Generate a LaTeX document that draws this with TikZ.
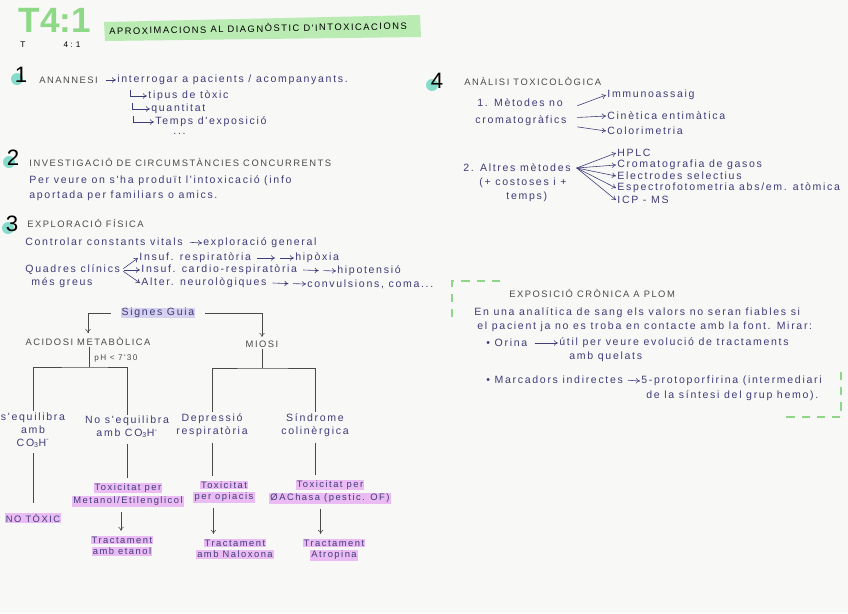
\documentclass[tikz,border=0pt]{standalone}
\usepackage{fontspec}
\newfontfamily\hand[LetterSpace=16]{Liberation Sans}
\newfontfamily\plain{Liberation Sans}
\usetikzlibrary{arrows.meta,positioning}
\definecolor{ink}{HTML}{3F3C7A}
\definecolor{graphite}{HTML}{4A4A4A}
\definecolor{mint}{HTML}{B9EBB2}
\definecolor{bigmint}{HTML}{8ED987}
\definecolor{numhl}{HTML}{86DCCB}
\definecolor{pinkhl}{HTML}{EBBBF3}
\definecolor{lavhl}{HTML}{D5D1EE}
\definecolor{dashgreen}{HTML}{8FD68A}
\definecolor{paper}{HTML}{F8F8F6}
\tikzset{
  body/.style   = {font=\hand\fontsize{9}{11}\selectfont, text=ink, inner sep=1pt, anchor=west},
  head/.style   = {body, font=\hand\fontsize{8}{10}\selectfont, text=graphite},
  leaf/.style   = {body, anchor=center, align=center},
  pink/.style   = {leaf, font=\hand\fontsize{8}{10}\selectfont, fill=pinkhl, inner ysep=0.8pt},
  bignum/.style = {font=\plain\fontsize{19}{19}\selectfont, text=black, inner sep=0pt},
  link/.style   = {draw=graphite, line width=0.5pt},
  tip/.style    = {-{To[length=1.2mm,width=1.6mm]}},
  inkarrow/.style = {draw=ink, line width=0.5pt, tip},
  dashbox/.style  = {dashgreen, line width=1.6pt, dash pattern=on 7pt off 6pt},
}

\begin{document}
\begin{tikzpicture}[x=0.03cm,y=-0.03cm]
  \fill[paper] (0,0) rectangle (848,613);
  \useasboundingbox (0,0) rectangle (848,613);

  % header
  \fill[mint] (104,22) -- (420,15) -- (421,37) -- (105,41) -- cycle;
  \node[font=\plain\bfseries\fontsize{30}{30}\selectfont, text=bigmint, inner sep=0pt] (big) at (55,20) {T4:1};
  \node[font=\plain\fontsize{7}{7}\selectfont, inner sep=0pt] (smallt) at (23,45) {T};
  \node[font=\plain\fontsize{7}{7}\selectfont, inner sep=0pt] (smalln) at (72,45) {4 : 1};
  \node[head, anchor=center, text=black, rotate=1] (title) at (258,28) {APROXIMACIONS AL DIAGNÒSTIC D'INTOXICACIONS};

  % 1
  \fill[numhl] (17,79) circle (6);
  \node[bignum] (n1) at (21,75) {1};
  \node[head] (anam) at (38,80) {ANANNESI};
  \node[body] (interr) at (116,80) {interrogar a pacients / acompanyants.};
  \draw[inkarrow] ([xshift=6pt]anam.east) -- (interr.west);
  \node[body] (tipus) at (147,96) {tipus de tòxic};
  \node[body] (quant) at (150,109) {quantitat};
  \node[body] (temps) at (154,122) {Temps d'exposició};
  \node[body] (etc) at (172,134) {...};
  \draw[inkarrow] ([xshift=-14pt]tipus.north west) |- (tipus.west);
  \draw[inkarrow] ([xshift=-15pt]quant.north west) |- (quant.west);
  \draw[inkarrow] ([xshift=-18pt]temps.north west) |- (temps.west);

  % 2
  \fill[numhl] (9,162) circle (6);
  \node[bignum] (n2) at (13,158) {2};
  \node[head] (invest) at (28,162) {INVESTIGACIÓ DE CIRCUMSTÀNCIES CONCURRENTS};
  \node[body] (per1) at (28,181) {Per veure on s'ha produït l'intoxicació (info};
  \node[body] (per2) at (28,196) {aportada per familiars o amics.};

  % 3
  \fill[numhl] (8,228) circle (6);
  \node[bignum] (n3) at (12,224) {3};
  \node[head] (explo) at (26,223) {EXPLORACIÓ FÍSICA};
  \node[body] (contr) at (24,242) {Controlar constants vitals};
  \node[body] (expgen) at (202,243) {exploració general};
  \draw[inkarrow, shorten <=5pt] (contr.east) -- (expgen.west);
  \node[body] (quad1) at (24,270) {Quadres clínics};
  \node[body] (quad2) at (30,283) {més greus};
  \node[body] (ins1) at (138,258) {Insuf. respiratòria};
  \node[body] (ins2) at (140,270) {Insuf. cardio-respiratòria};
  \node[body] (ins3) at (140,283) {Alter. neurològiques};
  \node[body] (hipox) at (294,258) {hipòxia};
  \node[body] (hipot) at (336,271) {hipotensió};
  \node[body] (conv) at (306,284) {convulsions, coma...};
  \foreach \a in {ins1,ins2,ins3}
    \draw[inkarrow, shorten <=2pt] (quad1.east) -- (\a.west);
  \foreach \a/\b in {ins1/hipox, ins2/hipot, ins3/conv} {
    \path (\a.east) -- (\b.west) coordinate[pos=0.6] (mid\b);
    \draw[inkarrow] ([xshift=4pt]\a.east) -- ([xshift=-2pt]mid\b);
    \draw[inkarrow] ([xshift=2pt]mid\b) -- (\b.west);
  }

  % signes guia
  \node[body, anchor=center, fill=lavhl, inner ysep=0pt] (guia) at (158,313) {Signes Guia};
  \node[head, anchor=center] (acid) at (88,341) {ACIDOSI METABÒLICA};
  \node[head, anchor=center] (miosi) at (262,344) {MIOSI};
  \draw[link, tip, shorten >=2pt] ([xshift=-8pt]guia.west) -| (acid.north);
  \draw[link, tip, shorten >=2pt] ([xshift=8pt]guia.east) -| (miosi.north);
  \node[body, text=graphite, font=\hand\fontsize{7}{8}\selectfont] (ph) at (93,358) {pH < 7'30};
  \coordinate (asplit) at (89,367);
  \coordinate (msplit) at (262,368);
  \draw[link] (acid.south -| asplit) -- (asplit);
  \draw[link] (miosi.south) -- (msplit);
  \node[leaf] (eq) at (33,430) {s'equilibra\\amb\\CO\textsubscript{3}H\textsuperscript{-}};
  \node[leaf] (noeq) at (127,427) {No s'equilibra\\amb CO\textsubscript{3}H\textsuperscript{-}};
  \node[leaf] (dep) at (212,425) {Depressió\\respiratòria};
  \node[leaf] (sin) at (315,425) {Síndrome\\colinèrgica};
  \draw[link] (eq.north) |- (asplit) -| (noeq.north);
  \draw[link] (dep.north) |- (msplit) -| (sin.north);

  \node[pink] (notox) at (33,518) {NO TÒXIC};
  \node[pink] (tox1a) at (128,488) {Toxicitat per};
  \node[pink, below=2pt of tox1a] (tox1b) {Metanol/Etilenglicol};
  \node[pink] (tr1a) at (122,540) {Tractament};
  \node[pink, below=2pt of tr1a] (tr1b) {amb etanol};
  \node[pink] (tox2a) at (224,485) {Toxicitat};
  \node[pink, below=2pt of tox2a] (tox2b) {per opiacis};
  \node[pink] (tr2a) at (235,543) {Tractament};
  \node[pink, below=2pt of tr2a] (tr2b) {amb Naloxona};
  \node[pink] (tox3a) at (330,485) {Toxicitat per};
  \node[pink, below=2pt of tox3a] (tox3b) {ØAChasa (pestic. OF)};
  \node[pink] (tr3a) at (334,543) {Tractament};
  \node[pink, below=2pt of tr3a] (tr3b) {Atropina};

  \draw[link] ([yshift=-4pt]eq.south) -- ([yshift=8pt]eq.south |- notox.north);
  \draw[link] ([yshift=-4pt]noeq.south) -- ([yshift=4pt]noeq.south |- tox1a.north);
  \draw[link] ([yshift=-4pt]dep.south) -- ([yshift=4pt]dep.south |- tox2a.north);
  \draw[link] ([yshift=-4pt]sin.south) -- ([yshift=4pt]sin.south |- tox3a.north);
  \draw[link, tip] ([xshift=-6pt,yshift=-4pt]tox1b.south) -- ([xshift=-6pt,yshift=4pt]tox1b.south |- tr1a.north);
  \draw[link, tip] ([xshift=-9pt,yshift=-4pt]tox2b.south) -- ([xshift=-9pt,yshift=4pt]tox2b.south |- tr2a.north);
  \draw[link, tip] ([xshift=-8pt,yshift=-4pt]tox3b.south) -- ([xshift=-8pt,yshift=4pt]tox3b.south |- tr3a.north);

  % 4
  \fill[numhl] (432,85) circle (6);
  \node[bignum] (n4) at (437,81) {4};
  \node[head] (anal) at (463,81) {ANÀLISI TOXICOLÒGICA};
  \node[body] (metno1) at (476,103) {1. Mètodes no};
  \node[body] (metno2) at (474,121) {cromatogràfics};
  \node[body] (immuno) at (606,95) {Immunoassaig};
  \node[body] (cinet) at (606,116) {Cinètica entimàtica};
  \node[body] (color) at (606,131) {Colorimetria};
  \draw[inkarrow] ([xshift=8pt,yshift=13pt]metno2.east) -- (immuno.west);
  \draw[inkarrow] ([xshift=8pt,yshift=3pt]metno2.east) -- (cinet.west);
  \draw[inkarrow] ([xshift=8pt,yshift=-5pt]metno2.east) -- (color.west);

  \node[body] (alt1) at (462,168) {2. Altres mètodes};
  \node[body] (alt2) at (478,183) {(+ costoses i +};
  \node[body] (alt3) at (505,197) {temps)};
  \coordinate (fan) at ([xshift=4pt]alt1.east);
  \node[body] (hplc) at (616,153) {HPLC};
  \node[body] (gasos) at (616,165) {Cromatografia de gasos};
  \node[body] (electr) at (616,176) {Electrodes selectius};
  \node[body] (espec) at (616,188) {Espectrofotometria abs/em. atòmica};
  \node[body] (icp) at (616,200) {ICP - MS};
  \foreach \t in {hplc,gasos,electr,espec,icp}
    \draw[inkarrow] (fan) -- (\t.west);

  % plom
  \draw[dashbox] (500,281) -- (452,281) -- (452,323);
  \draw[dashbox] (841,372) -- (841,417) -- (780,417);
  \node[head] (plom) at (508,293) {EXPOSICIÓ CRÒNICA A PLOM};
  \node[body] (sang1) at (473,313) {En una analítica de sang els valors no seran fiables si};
  \node[body] (sang2) at (476,327) {el pacient ja no es troba en contacte amb la font. Mirar:};
  \node[body] (orina) at (485,343) {• Orina};
  \node[body] (util1) at (558,343) {útil per veure evolució de tractaments};
  \node[body] (util2) at (568,357) {amb quelats};
  \draw[inkarrow, shorten <=5pt] (orina.east) -- (util1.west);
  \node[body] (marc) at (485,380) {• Marcadors indirectes};
  \node[body] (proto) at (640,381) {5-protoporfirina (intermediari};
  \node[body] (hemo) at (645,396) {de la síntesi del grup hemo).};
  \draw[inkarrow, shorten <=3pt] (marc.east) -- (proto.west);
\end{tikzpicture}
\end{document}
